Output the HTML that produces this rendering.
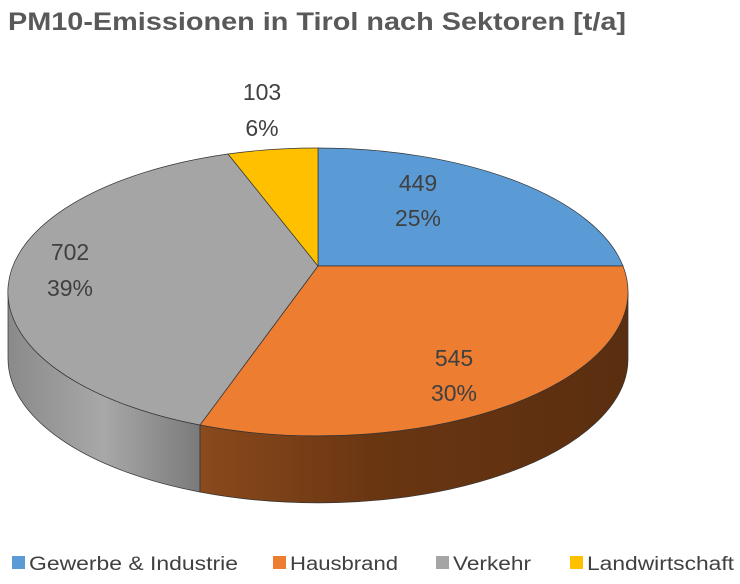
<!DOCTYPE html>
<html><head><meta charset="utf-8"><style>
body{margin:0;background:#fff;width:740px;height:579px;overflow:hidden}
</style></head><body>
<svg width="740" height="579" xmlns="http://www.w3.org/2000/svg" font-family="Liberation Sans, sans-serif">
<defs>
<linearGradient id="gs" x1="0" x2="1" y1="0" y2="0">
<stop offset="0" stop-color="#8a8a8a"/><stop offset="0.5" stop-color="#a8a8a8"/><stop offset="1" stop-color="#7a7a7a"/>
</linearGradient>
<linearGradient id="os" x1="0" x2="1" y1="0" y2="0">
<stop offset="0" stop-color="#8a4a1c"/><stop offset="0.4" stop-color="#6a3612"/><stop offset="1" stop-color="#5a2e10"/>
</linearGradient>
</defs>
<text x="8" y="30" font-size="25" font-weight="bold" fill="#595959" textLength="618" lengthAdjust="spacingAndGlyphs">PM10-Emissionen in Tirol nach Sektoren [t/a]</text>
<path d="M8,292 A310,144 0 0 0 200,425 L200,492 A310,144 0 0 1 8,359 Z" fill="url(#gs)" stroke="#333" stroke-width="0.7"/>
<path d="M200,425 A310,144 0 0 0 628,292 L628,359 A310,144 0 0 1 200,492 Z" fill="url(#os)" stroke="#333" stroke-width="0.7"/>
<path d="M318,266 L318,148 A310,144 0 0 1 623,266 Z" fill="#5b9bd5" stroke="#333" stroke-width="0.7"/>
<path d="M318,266 L623,266 A310,144 0 0 1 200,425 Z" fill="#ed7d31" stroke="#333" stroke-width="0.7"/>
<path d="M318,266 L200,425 A310,144 0 0 1 228,154 Z" fill="#a5a5a5" stroke="#333" stroke-width="0.7"/>
<path d="M318,266 L228,154 A310,144 0 0 1 318,148 Z" fill="#ffc000" stroke="#333" stroke-width="0.7"/>
<g font-size="23" fill="#404040" text-anchor="middle">
<text x="262" y="100">103</text><text x="262" y="136">6%</text>
<text x="418" y="191">449</text><text x="418" y="226">25%</text>
<text x="70" y="260">702</text><text x="70" y="296">39%</text>
<text x="454" y="366">545</text><text x="454" y="401">30%</text>
</g>
<g font-size="19" fill="#404040" lengthAdjust="spacingAndGlyphs">
<rect x="12" y="556" width="13" height="13" fill="#5b9bd5"/><text x="29" y="570" textLength="209" lengthAdjust="spacingAndGlyphs">Gewerbe &amp; Industrie</text>
<rect x="273" y="556" width="13" height="13" fill="#ed7d31"/><text x="290" y="570" textLength="108" lengthAdjust="spacingAndGlyphs">Hausbrand</text>
<rect x="436" y="556" width="13" height="13" fill="#a5a5a5"/><text x="453" y="570" textLength="78" lengthAdjust="spacingAndGlyphs">Verkehr</text>
<rect x="570" y="556" width="13" height="13" fill="#ffc000"/><text x="587" y="570" textLength="147" lengthAdjust="spacingAndGlyphs">Landwirtschaft</text>
</g>
</svg>
</body></html>
